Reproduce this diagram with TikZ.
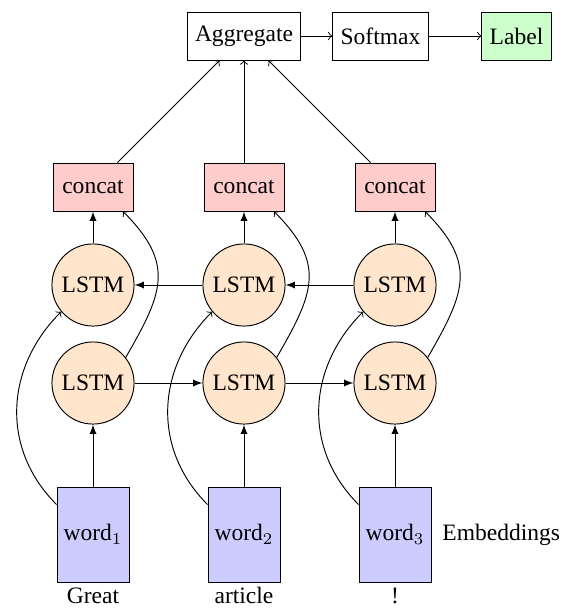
\documentclass[tikz,border=0pt]{standalone}
\usepackage{fontspec}
\setmainfont{Liberation Serif}
\usetikzlibrary{calc}
\begin{document}
\begin{tikzpicture}[x=0.425pt,y=-0.425pt,
  box/.style={draw, minimum height=20.4pt, inner sep=3.33pt},
  cc/.style={box, fill=red!20, minimum width=34pt},
  lstm/.style={circle, draw, fill=orange!20, minimum size=34.9pt, inner sep=0pt},
  wordbox/.style={draw, fill=blue!20, minimum width=30.6pt, minimum height=40.4pt, inner sep=0pt},
  txt/.style={inner sep=0pt, anchor=base},
  sa/.style={-latex},
  oa/.style={->}]
\useasboundingbox (0,0) rectangle (563,608);
\node[box] (agg) at (244,36) {Aggregate};
\node[box] (soft) at (380.5,36) {Softmax};
\node[box, fill=green!20] (lab) at (516.5,36) {Label};
\foreach \i/\x/\w in {1/93/Great,2/244/article,3/395/!}{
  \node[cc] (c\i) at (\x,187) {concat};
  \node[lstm] (t\i) at (\x,285) {LSTM};
  \node[lstm] (b\i) at (\x,383) {LSTM};
  \node[wordbox] (w\i) at (\x,534.5) {word$_\i$};
  \node[txt] (s\i) at (\x,603) {\w};
}
\node[inner sep=0pt, anchor=west] (emb) at (442,534.5) {Embeddings};
\draw[oa] (agg) -- (soft);
\draw[oa] (soft) -- (lab);
\foreach \i in {1,2,3}{
  \draw[oa] (c\i) -- (agg);
  \draw[sa] (t\i) -- (c\i);
  \draw[sa] (w\i) -- (b\i);
  \draw[oa] (b\i.38) to[out=60, in=-45, looseness=1.3] ($(c\i.south)+(30,0)$);
  \draw[oa] ($(w\i.north west)+(0,18)$) to[out=135, in=-135, looseness=1.05] (t\i.220);
}
\draw[sa] (b1) -- (b2);
\draw[sa] (b2) -- (b3);
\draw[sa] (t3) -- (t2);
\draw[sa] (t2) -- (t1);
\end{tikzpicture}
\end{document}
